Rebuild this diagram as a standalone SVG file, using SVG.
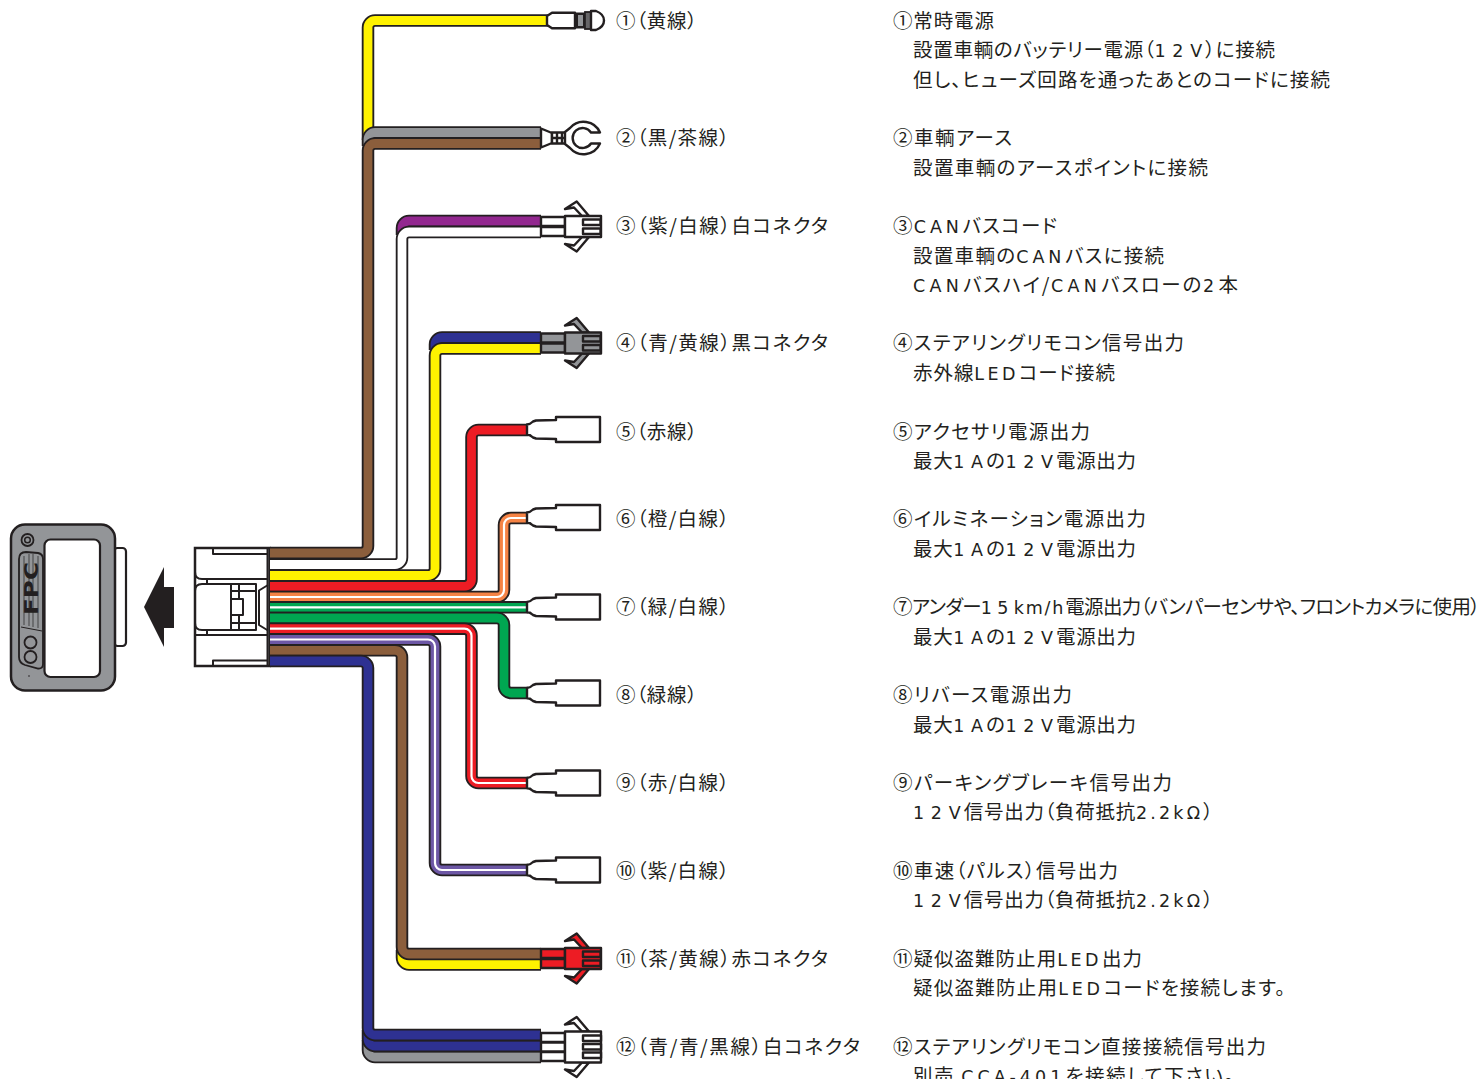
<svg xmlns="http://www.w3.org/2000/svg" width="1483" height="1079" viewBox="0 0 1483 1079">
<style>
text{font-family:"Noto Sans CJK JP","Noto Sans",sans-serif;font-size:19.5px;fill:#231f20;font-feature-settings:"palt"}
.w{font-family:"DejaVu Sans",sans-serif;font-size:17.5px;letter-spacing:2.5px}
.d{font-family:"DejaVu Sans",sans-serif;font-size:17.5px;letter-spacing:6px}
#connectors path{fill:none;stroke-linejoin:round}
#connectors .o{stroke:#231f20;stroke-width:12.5}
#connectors .c{stroke-width:8.8}
#connectors .s{stroke:#fff;stroke-width:2.2}
.l{fill:#fff;stroke:#231f20;stroke-width:2.2;stroke-linejoin:round}
.i{fill:inherit;stroke:#231f20;stroke-width:2.4;stroke-linejoin:round}
.t{fill:#fff;stroke:#231f20;stroke-width:2.4;stroke-linejoin:round}
.k{fill:none;stroke:#231f20;stroke-width:2;stroke-linejoin:round}
</style>
<defs>
<path id="term" class="t" d="M527,-5 Q530,-5 533,-8 L536,-9 L556,-9.5 V-12.5 H600 V12.5 H556 V9.5 L536,9 L533,8 Q530,5 527,5 Z"/>
<g id="plug2">
<path class="i" d="M541,-9.5 H565 V-.5 H541 Z M541,.5 H565 V9.5 H541 Z"/>
<path class="i" d="M589,-10.5 L576.7,-25 L565,-17.5 L574,-19 L582,-10.5 Z M589,10.5 L576.7,25 L565,17.5 L574,19 L582,10.5 Z"/>
<rect class="i" x="565" y="-10.5" width="36" height="21"/>
<path class="i" d="M583,-7 H600.5 V-1.5 H583 Z M583,2 H600.5 V7.5 H583 Z"/>
</g>
<g id="plug3">
<path class="i" d="M541,-14 H565 V-5 H541 Z M541,-4.5 H565 V4.5 H541 Z M541,5 H565 V14 H541 Z"/>
<path class="i" d="M589,-15.5 L576.7,-30 L565,-22.5 L574,-24 L582,-15.5 Z M589,15.5 L576.7,30 L565,22.5 L574,24 L582,15.5 Z"/>
<rect class="i" x="565" y="-15.5" width="36" height="31"/>
<path class="i" d="M583,-11.5 H601 V-6 H583 Z M583,-3 H601 V2.5 H583 Z M583,5.5 H601 V11 H583 Z"/>
</g>
</defs>
<g id="controller">
<rect x="114" y="548" width="12" height="98" rx="3.5" class="l"/>
<rect x="11" y="524.5" width="104" height="166" rx="14" fill="#939598" stroke="#231f20" stroke-width="2.5"/>
<rect x="44.5" y="539.5" width="55.5" height="137.5" rx="6" class="l"/>
<circle cx="27.5" cy="540" r="6" fill="none" stroke="#231f20" stroke-width="1.8"/>
<circle cx="27.5" cy="540" r="2.8" fill="none" stroke="#231f20" stroke-width="1.5"/>
<path d="M26,552 L38,553 Q43,554 43,559 V664 Q43,669 38,668.500 L25,665 Q19,663 19,657 V559 Q19,552 26,552 Z" fill="#939598" stroke="#231f20" stroke-width="1.8"/>
<path d="M21,627 L42,631" stroke="#231f20" stroke-width="1" fill="none"/>
<path d="M24,556 V625 M29,554 V626 M33,554 V627 M38,556 V628" stroke="#231f20" stroke-width=".7" fill="none"/>
<text transform="translate(38,615) rotate(-90)" style="font-family:'DejaVu Sans',sans-serif;font-size:19px;font-weight:bold" textLength="53" lengthAdjust="spacingAndGlyphs">FPC</text>
<circle cx="30.500" cy="642.500" r="6" fill="none" stroke="#231f20" stroke-width="1.8"/>
<circle cx="30.500" cy="657" r="6" fill="none" stroke="#231f20" stroke-width="1.8"/>
<circle cx="29" cy="676" r=".8" fill="#231f20"/>
</g>
<polygon id="arrow" points="144,607 164,567 164,587 174,587 174,628 164,628 164,647" fill="#231f20"/>
<g id="harness-block">
<rect x="195" y="548" width="74.500" height="118" fill="#fff" stroke="#231f20" stroke-width="2.500"/>
<path class="k" d="M267.500,548 V666"/>
<path class="k" d="M195,572 Q195,579 202,579 H267 M213,549 V554 H267 M195,635 H267 M213,665 V660.500 H267"/>
<path class="k" d="M202,584 H256 V630 H202 Q195,630 195,623 V591 Q195,584 202,584 Z"/>
<path class="k" d="M231,584 V630 M239,584 V599 M239,615 V630 M231,591 H256 M231,623 H256 M231,599 H243 V615 H231"/>
<path class="k" d="M207,579 V584 M207,630 V635"/>
<path class="k" d="M268,585 L259,590.500 V625 L268,630.500"/>
</g>
<g id="connectors">
<path class="o" d="M368,140 V27.500 A7,7 0 0 1 375,20.500 H548"/><path class="c" stroke="#fff200" d="M368,140 V27.500 A7,7 0 0 1 375,20.500 H547"/>
<path class="o" d="M368,146 V139.500 A7,7 0 0 1 375,132.500 H541"/><path class="c" stroke="#939598" d="M368,146 V139.500 A7,7 0 0 1 375,132.500 H540"/>
<path class="o" d="M270,553 H361 A7,7 0 0 0 368,546 V150.500 A7,7 0 0 1 375,143.500 H541"/><path class="c" stroke="#8b5e3c" d="M270,553 H361 A7,7 0 0 0 368,546 V150.500 A7,7 0 0 1 375,143.500 H540"/>
<path class="o" d="M402,235 V228 A7,7 0 0 1 409,221 H541"/><path class="c" stroke="#92278f" d="M402,235 V228 A7,7 0 0 1 409,221 H540"/>
<path class="o" d="M270,564.500 H395 A7,7 0 0 0 402,557.500 V239 A7,7 0 0 1 409,232 H541"/><path class="c" stroke="#fff" d="M270,564.500 H395 A7,7 0 0 0 402,557.500 V239 A7,7 0 0 1 409,232 H540"/>
<path class="o" d="M435,350 V344.500 A7,7 0 0 1 442,337.500 H541"/><path class="c" stroke="#2e3192" d="M435,350 V344.500 A7,7 0 0 1 442,337.500 H540"/>
<path class="o" d="M270,575.500 H428 A7,7 0 0 0 435,568.500 V355.500 A7,7 0 0 1 442,348.500 H541"/><path class="c" stroke="#fff200" d="M270,575.500 H428 A7,7 0 0 0 435,568.500 V355.500 A7,7 0 0 1 442,348.500 H540"/>
<path class="o" d="M270,586.300 H464.500 A7,7 0 0 0 471.500,579.300 V437 A7,7 0 0 1 478.500,430 H528"/><path class="c" stroke="#ed1c24" d="M270,586.300 H464.500 A7,7 0 0 0 471.500,579.300 V437 A7,7 0 0 1 478.500,430 H528"/>
<path class="o" d="M270,597 H497 A7,7 0 0 0 504,590 V525 A7,7 0 0 1 511,518 H528"/><path class="c" stroke="#f58345" d="M270,597 H497 A7,7 0 0 0 504,590 V525 A7,7 0 0 1 511,518 H528"/><path class="s" d="M270,597 H497 A7,7 0 0 0 504,590 V525 A7,7 0 0 1 511,518 H528"/>
<path class="o" d="M270,607.300 H528"/><path class="c" stroke="#00a651" d="M270,607.300 H528"/><path class="s" d="M270,607.300 H528"/>
<path class="o" d="M270,618 H497 A7,7 0 0 1 504,625 V686 A7,7 0 0 0 511,693 H528"/><path class="c" stroke="#00a651" d="M270,618 H497 A7,7 0 0 1 504,625 V686 A7,7 0 0 0 511,693 H528"/>
<path class="o" d="M270,628.700 H464.500 A7,7 0 0 1 471.500,635.700 V776 A7,7 0 0 0 478.500,783 H528"/><path class="c" stroke="#ed1c24" d="M270,628.700 H464.500 A7,7 0 0 1 471.500,635.700 V776 A7,7 0 0 0 478.500,783 H528"/><path class="s" d="M270,628.700 H464.500 A7,7 0 0 1 471.500,635.700 V776 A7,7 0 0 0 478.500,783 H528"/>
<path class="o" d="M270,639.500 H428 A7,7 0 0 1 435,646.500 V863 A7,7 0 0 0 442,870 H528"/><path class="c" stroke="#6d57a5" d="M270,639.500 H428 A7,7 0 0 1 435,646.500 V863 A7,7 0 0 0 442,870 H528"/><path class="s" d="M270,639.500 H428 A7,7 0 0 1 435,646.500 V863 A7,7 0 0 0 442,870 H528"/>
<path class="o" d="M402,950 V957.500 A7,7 0 0 0 409,964.500 H541"/><path class="c" stroke="#fff200" d="M402,950 V957.500 A7,7 0 0 0 409,964.500 H540"/>
<path class="o" d="M270,650.300 H395 A7,7 0 0 1 402,657.300 V947 A7,7 0 0 0 409,954 H541"/><path class="c" stroke="#8b5e3c" d="M270,650.300 H395 A7,7 0 0 1 402,657.300 V947 A7,7 0 0 0 409,954 H540"/>
<path class="o" d="M368,1040 V1050 A7,7 0 0 0 375,1057 H541"/><path class="c" stroke="#939598" d="M368,1040 V1050 A7,7 0 0 0 375,1057 H540"/>
<path class="o" d="M368,1030 V1039 A7,7 0 0 0 375,1046 H541"/><path class="c" stroke="#2e3192" d="M368,1030 V1039 A7,7 0 0 0 375,1046 H540"/>
<path class="o" d="M270,661 H361 A7,7 0 0 1 368,668 V1028 A7,7 0 0 0 375,1035 H541"/><path class="c" stroke="#2e3192" d="M270,661 H361 A7,7 0 0 1 368,668 V1028 A7,7 0 0 0 375,1035 H540"/>
</g>
<g id="n1">
<path class="t" d="M547,16 L552,12.800 H575 V28.300 H552 L547,25 Z"/>
<rect x="576" y="12.500" width="9" height="16" fill="#231f20"/>
<path d="M578,15 H583 V26 H578 Z" fill="#939598"/>
<rect x="585" y="12" width="6" height="17" fill="#939598" stroke="#231f20" stroke-width="1.800"/>
<path d="M587,12 V29 M589,12 V29" stroke="#231f20" stroke-width=".8"/>
<path class="t" d="M591,11 H596 Q604,14 604,20.500 Q604,27 596,30 H591 Z"/>
<text x="616" y="28" textLength="81">①（黄線）</text>
<text x="893" y="28" textLength="101">①常時電源</text>
<text x="913" y="57" textLength="362">設置車輌のバッテリー電源（<tspan class="d">12</tspan><tspan class="w">V</tspan>）に接続</text>
<text x="913" y="87" textLength="417">但し、ヒューズ回路を通ったあとのコードに接続</text>
</g>
<g id="n2">
<path class="t" d="M541,128.500 L552,133 V143 L541,147.500 Z"/>
<path class="t" d="M552,132.500 H567 V143.500 H552 Z M557,132.500 V143.500 M562,132.500 V143.500 M552,138 H567"/>
<path class="t" d="M565,132 L570,128 A18,18 0 0 1 600,132.500 H591 A10,10 0 1 0 591,143.500 H600 A18,18 0 0 1 570,148 L565,144 Z"/>
<text x="616" y="145" textLength="113">②（黒/茶線）</text>
<text x="893" y="145" textLength="119">②車輌アース</text>
<text x="913" y="175" textLength="295">設置車輌のアースポイントに接続</text>
</g>
<g id="n3">
<use href="#plug2" y="226.500" fill="#fff"/>
<text x="616" y="233" textLength="212">③（紫/白線）白コネクタ</text>
<text x="893" y="233" textLength="164">③<tspan class="w">CAN</tspan>バスコード</text>
<text x="913" y="263" textLength="251">設置車輌の<tspan class="w">CAN</tspan>バスに接続</text>
<text x="913" y="292" textLength="325"><tspan class="w">CAN</tspan>バスハイ/<tspan class="w">CAN</tspan>バスローの<tspan class="w">2</tspan>本</text>
</g>
<g id="n4">
<use href="#plug2" y="343" fill="#939598"/>
<text x="616" y="350" textLength="212">④（青/黄線）黒コネクタ</text>
<text x="893" y="350" textLength="291">④ステアリングリモコン信号出力</text>
<text x="913" y="380" textLength="202">赤外線<tspan class="w">LED</tspan>コード接続</text>
</g>
<g id="n5">
<use href="#term" y="429.500"/>
<text x="616" y="439" textLength="81">⑤（赤線）</text>
<text x="893" y="439" textLength="197">⑤アクセサリ電源出力</text>
<text x="913" y="468" textLength="223">最大<tspan class="d">1</tspan><tspan class="w">A</tspan>の<tspan class="d">12</tspan><tspan class="w">V</tspan>電源出力</text>
</g>
<g id="n6">
<use href="#term" y="517.500"/>
<text x="616" y="526" textLength="113">⑥（橙/白線）</text>
<text x="893" y="526" textLength="253">⑥イルミネーション電源出力</text>
<text x="913" y="556" textLength="223">最大<tspan class="d">1</tspan><tspan class="w">A</tspan>の<tspan class="d">12</tspan><tspan class="w">V</tspan>電源出力</text>
</g>
<g id="n7">
<use href="#term" y="607"/>
<text x="616" y="614" textLength="113">⑦（緑/白線）</text>
<text x="893" y="614" textLength="587">⑦アンダー<tspan class="d">15</tspan><tspan class="w">km/h</tspan>電源出力（バンパーセンサや、フロントカメラに使用）</text>
<text x="913" y="644" textLength="223">最大<tspan class="d">1</tspan><tspan class="w">A</tspan>の<tspan class="d">12</tspan><tspan class="w">V</tspan>電源出力</text>
</g>
<g id="n8">
<use href="#term" y="693"/>
<text x="616" y="702" textLength="81">⑧（緑線）</text>
<text x="893" y="702" textLength="179">⑧リバース電源出力</text>
<text x="913" y="732" textLength="223">最大<tspan class="d">1</tspan><tspan class="w">A</tspan>の<tspan class="d">12</tspan><tspan class="w">V</tspan>電源出力</text>
</g>
<g id="n9">
<use href="#term" y="783"/>
<text x="616" y="790" textLength="113">⑨（赤/白線）</text>
<text x="893" y="790" textLength="279">⑨パーキングブレーキ信号出力</text>
<text x="913" y="819" textLength="300"><tspan class="d">12</tspan><tspan class="w">V</tspan>信号出力（負荷抵抗<tspan class="w">2.2kΩ</tspan>）</text>
</g>
<g id="n10">
<use href="#term" y="870"/>
<text x="616" y="878" textLength="113">⑩（紫/白線）</text>
<text x="893" y="878" textLength="225">⑩車速（パルス）信号出力</text>
<text x="913" y="907" textLength="300"><tspan class="d">12</tspan><tspan class="w">V</tspan>信号出力（負荷抵抗<tspan class="w">2.2kΩ</tspan>）</text>
</g>
<g id="n11">
<use href="#plug2" y="958.500" fill="#ed1c24"/>
<text x="616" y="966" textLength="212">⑪（茶/黄線）赤コネクタ</text>
<text x="893" y="966" textLength="249">⑪疑似盗難防止用<tspan class="w">LED</tspan>出力</text>
<text x="913" y="995" textLength="372">疑似盗難防止用<tspan class="w">LED</tspan>コードを接続します。</text>
</g>
<g id="n12">
<use href="#plug3" y="1047" fill="#fff"/>
<text x="616" y="1054" textLength="244">⑫（青/青/黒線）白コネクタ</text>
<text x="893" y="1054" textLength="373">⑫ステアリングリモコン直接接続信号出力</text>
<text x="913" y="1083" textLength="321">別売 <tspan class="w">CCA-401</tspan>を接続して下さい。</text>
</g>
</svg>
